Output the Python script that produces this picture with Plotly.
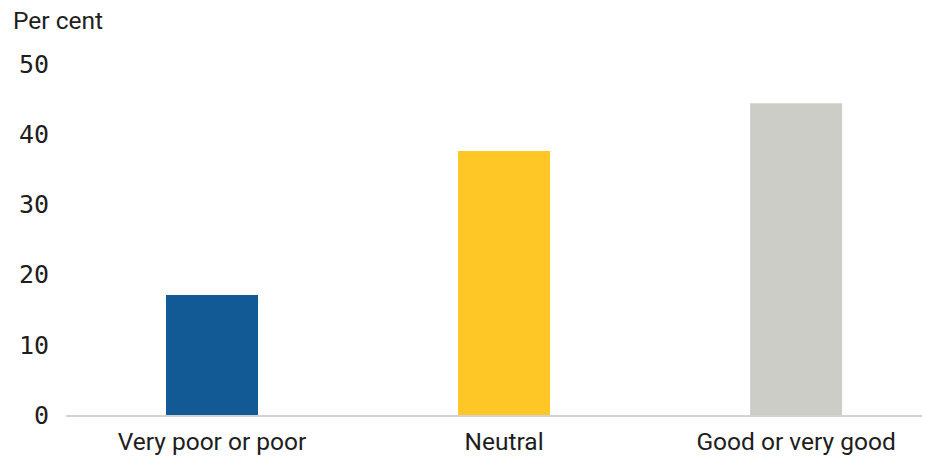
import plotly.graph_objects as go

categories = ["Very poor or poor", "Neutral", "Good or very good"]
values = [17.1, 37.6, 44.4]
colors = ["#115A96", "#FFC726", "#CDCDC8"]
y_ticks = [0, 10, 20, 30, 40, 50]

fig = go.Figure(go.Bar(x=categories, y=values, marker=dict(color=colors, line=dict(width=0))))

# page body has an 8px offset, margins compensate
fig.update_layout(
    width=930, height=459,
    margin=dict(l=58, r=0, t=56, b=52),
    paper_bgcolor="white", plot_bgcolor="white",
    bargap=0.685,
    showlegend=False,
    font=dict(family="Roboto", size=24.5, color="#1e1e1e"),
    xaxis=dict(range=[-0.5, 2.486], showline=True, linecolor="#D3D3D3", linewidth=2,
               ticks="", showgrid=False, ticklabelstandoff=4,
               tickfont=dict(family="Roboto", size=24.5, color="#1e1e1e")),
    yaxis=dict(range=[0, 50], tickvals=y_ticks, showgrid=False, zeroline=False, ticks="",
               ticklabelstandoff=16,
               tickfont=dict(family="DejaVu Sans Mono", size=25, color="#1e1e1e")),
    annotations=[dict(text="Per cent", xref="paper", yref="paper", x=0, y=1 + (56 - 13) / 351,
                      xanchor="left", yanchor="middle", showarrow=False, xshift=-55,
                      font=dict(family="Roboto", size=24.5, color="#1e1e1e"))],
)

fig.write_html("out.html")
